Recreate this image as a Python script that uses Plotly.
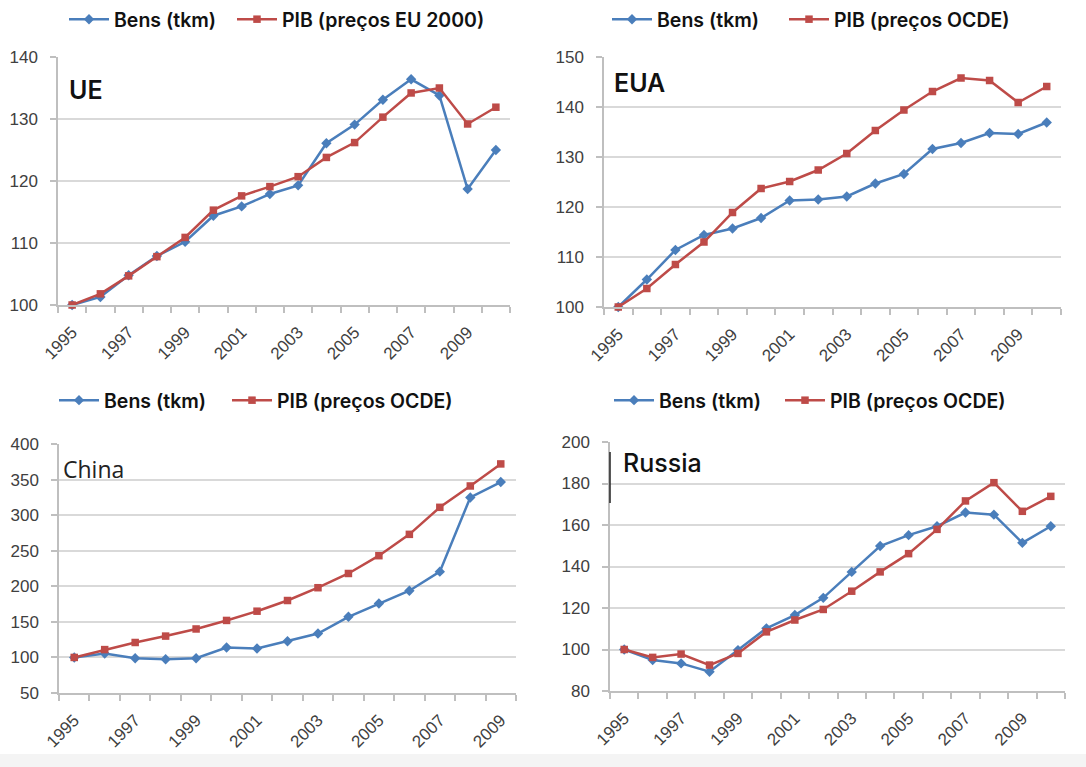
import plotly.graph_objects as go

# Index series (1995 = 100)
years_eu_us = list(range(1995, 2011))
years_cn = list(range(1995, 2010))
years_ru = list(range(1995, 2011))
tick_years = [1995, 1997, 1999, 2001, 2003, 2005, 2007, 2009]
tick_labels = [str(y) for y in tick_years]

ue_bens = [100, 101.3, 104.8, 107.9, 110.2, 114.4, 115.9, 117.9, 119.3, 126.1, 129.1, 133.1, 136.4, 133.8, 118.7, 125.0]
ue_pib = [100, 101.8, 104.7, 107.8, 110.9, 115.3, 117.6, 119.1, 120.7, 123.8, 126.2, 130.3, 134.2, 135.0, 129.2, 131.9]

eua_bens = [100, 105.5, 111.4, 114.4, 115.7, 117.8, 121.3, 121.5, 122.1, 124.7, 126.6, 131.6, 132.8, 134.8, 134.6, 136.9]
eua_pib = [100, 103.7, 108.5, 113.0, 118.9, 123.7, 125.1, 127.4, 130.7, 135.3, 139.4, 143.1, 145.8, 145.3, 140.9, 144.1]

china_bens = [100, 105.5, 98.9, 97.5, 98.9, 113.9, 112.5, 122.8, 133.6, 157.1, 175.9, 193.8, 220.6, 324.9, 346.5]
china_pib = [100, 111, 121, 130, 140, 152, 165, 180, 198, 218, 243, 273, 311, 341, 372]

russia_bens = [100, 94.9, 93.3, 89.3, 99.7, 110.2, 116.6, 124.9, 137.4, 149.9, 155.1, 159.4, 166.0, 165.0, 151.4, 159.4]
russia_pib = [100, 96.2, 97.8, 92.5, 98.1, 108.5, 114.2, 119.3, 128.1, 137.4, 146.2, 157.9, 171.6, 180.4, 166.6, 173.8]

BLUE = "#4A7EBB"
RED = "#BE4B48"
W, H = 1086, 767

TITLE_BOLD = dict(family="Inter", size=25, color="#111", weight=600)
panels = [
    # (suffix, years, bens, pib, pib label, y range, y dtick, plot box px (l, t, r, b), title, title px, title font)
    ("", years_eu_us, ue_bens, ue_pib, "PIB (preços EU 2000)", [100, 140], 10,
     (58, 57, 510, 305), "UE", (67, 90), TITLE_BOLD),
    ("2", years_eu_us, eua_bens, eua_pib, "PIB (preços OCDE)", [100, 150], 10,
     (604, 57, 1061, 307), "EUA", (612, 83), TITLE_BOLD),
    ("3", years_cn, china_bens, china_pib, "PIB (preços OCDE)", [50, 400], 50,
     (59, 444, 516, 693), "China", (61, 469), dict(family="Open Sans", size=23, color="#222", weight=400)),
    ("4", years_ru, russia_bens, russia_pib, "PIB (preços OCDE)", [80, 200], 20,
     (610, 442, 1065, 691), "Russia", (621, 463), dict(family="Inter", size=25, color="#111", weight=500)),
]

# one legend box per series: (Bens x, PIB x, top y) in px
legend_pos = {"": (64, 232, 0), "2": (607, 784, 0), "3": (54, 227, 381), "4": (609, 780, 381)}

fig = go.Figure()
layout = {}
annotations = []
legend_no = 0
for suffix, years, bens, pib, pib_name, yr, ydt, box, title, tpos, tfont in panels:
    xa, ya = "x" + suffix, "y" + suffix
    bx, px_, ly = legend_pos[suffix]
    series = [
        ("Bens (tkm)", bens, BLUE, "diamond", 8, bx),
        (pib_name, pib, RED, "square", 7.5, px_),
    ]
    for name, vals, color, symbol, msize, lx in series:
        legend_no += 1
        lg = "legend" if legend_no == 1 else "legend%d" % legend_no
        fig.add_trace(go.Scatter(
            x=years, y=vals, name=name, mode="lines+markers", showlegend=True,
            line=dict(color=color, width=2.5), marker=dict(symbol=symbol, size=msize, color=color),
            xaxis=xa, yaxis=ya, legend=lg, cliponaxis=False))
        layout[lg] = dict(
            x=lx / W, y=1 - ly / H, xanchor="left", yanchor="top", orientation="h",
            font=dict(family="Inter", size=19.5, color="#111", weight=600),
            bgcolor="rgba(0,0,0,0)", itemwidth=40)

    l, t, r, b = box
    n = len(years)
    layout["xaxis" + suffix] = dict(
        domain=[l / W, r / W], anchor=ya, range=[years[0] - 0.5, years[-1] + 0.5],
        automargin=False,
        tickmode="array", tickvals=tick_years, ticktext=tick_labels, tickangle=-45,
        ticks="", showgrid=False, zeroline=False, showline=True, linecolor="#BFBFBF", linewidth=1.5,
        tickfont=dict(family="Liberation Sans", size=17, color="#404040"),
        ticklabelstandoff=9,
        minor=dict(tickmode="array", tickvals=[years[0] - 0.5 + i for i in range(n + 1)],
                   ticks="outside", ticklen=6, tickcolor="#BFBFBF", tickwidth=1.5, showgrid=False),
        fixedrange=True)
    layout["yaxis" + suffix] = dict(
        domain=[1 - b / H, 1 - t / H], anchor=xa, range=yr, dtick=ydt, tick0=yr[0],
        automargin=False,
        ticks="outside", ticklen=6, tickcolor="#BFBFBF", tickwidth=1.5, ticklabelstandoff=9,
        showgrid=True, gridcolor="#D9D9D9", gridwidth=1.5, zeroline=False,
        showline=True, linecolor="#BFBFBF", linewidth=1.5,
        tickfont=dict(family="Liberation Sans", size=17, color="#404040"),
        fixedrange=True)
    annotations.append(dict(
        text=title, xref="paper", yref="paper", x=tpos[0] / W, y=1 - tpos[1] / H,
        xanchor="left", yanchor="middle", showarrow=False, font=tfont))

fig.update_layout(
    width=W, height=H, margin=dict(l=0, r=0, t=0, b=0, autoexpand=False),
    paper_bgcolor="white", plot_bgcolor="white", showlegend=True,
    annotations=annotations,
    shapes=[
        dict(type="rect", xref="paper", yref="paper", x0=0, x1=1, y0=0, y1=13 / H,
             fillcolor="#F4F4F4", line=dict(width=0), layer="below"),
        dict(type="line", xref="paper", yref="paper", x0=610 / W, x1=610 / W,
             y0=1 - 452 / H, y1=1 - 503 / H, line=dict(color="#222", width=1.5)),
    ],
    **layout,
)

fig.write_html(
    "out.html",
    post_script="document.body.style.margin='0';document.body.style.overflow='hidden';",
)
